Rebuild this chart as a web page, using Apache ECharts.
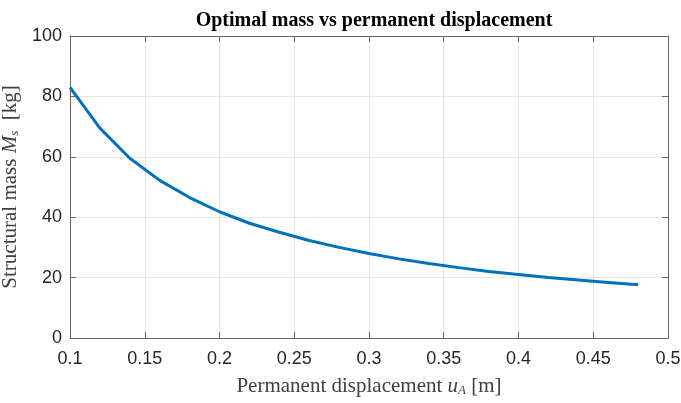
<!DOCTYPE html>
<html>
<head>
<meta charset="utf-8">
<script src="https://cdn.jsdelivr.net/npm/echarts@6/dist/echarts.min.js"></script>
<style>
  html, body { margin: 0; padding: 0; background: #fff; }
  #chart { width: 681px; height: 403px; }
</style>
</head>
<body>
<div id="chart"></div>
<script>
// permanent displacement u_A [m]
const displacement = [0.10, 0.12, 0.14, 0.16, 0.18, 0.20, 0.22, 0.24, 0.26, 0.28,
                      0.30, 0.32, 0.34, 0.36, 0.38, 0.40, 0.42, 0.44, 0.46, 0.48];
// optimal structural mass M_s [kg]
const mass = [83.0, 69.5, 59.5, 52.2, 46.5, 41.8, 38.0, 35.0, 32.3, 30.0,
              28.0, 26.2, 24.7, 23.3, 22.0, 21.0, 20.0, 19.2, 18.4, 17.6];
const xTicks = { min: 0.1, max: 0.5, step: 0.05 };
const yTicks = { min: 0, max: 100, step: 20 };

const points = displacement.map((d, i) => [d, mass[i]]);

const axisColor = '#666';
const textColor = '#262626';
const serif = '"Liberation Serif", "Times New Roman", serif';
const sans = '"Liberation Sans", Arial, sans-serif';

function fmt(v) { return String(+v.toFixed(2)); }

// rich styles for the math-ish axis names
const nameRich = {
    t: { fontFamily: serif, fontSize: 21, color: '#404040' },
    i: { fontFamily: serif, fontSize: 21, fontStyle: 'italic', color: '#404040' },
    s: { fontFamily: serif, fontSize: 13, fontStyle: 'italic', color: '#404040', verticalAlign: 'bottom' }
};

const myChart = echarts.init(document.getElementById('chart'));
myChart.setOption({
    animation: false,
    title: {
        text: 'Optimal mass vs permanent displacement',
        left: 369,
        textAlign: 'center',
        top: 6,
        textStyle: { fontFamily: serif, fontWeight: 'bold', fontSize: 20, color: '#000' }
    },
    grid: { left: 70, right: 13, top: 36, bottom: 65, containLabel: false, outerBoundsMode: 'none' },
    xAxis: [{
        type: 'value',
        min: xTicks.min, max: xTicks.max, interval: xTicks.step,
        name: '{t|Permanent displacement }{i|u}{s|A}{t| [m]}',
        nameLocation: 'middle',
        nameGap: 38,
        nameTextStyle: { rich: nameRich },
        axisLine: { show: true, lineStyle: { color: axisColor, width: 1 } },
        axisTick: { show: true, inside: true, length: 6, lineStyle: { color: axisColor } },
        axisLabel: { formatter: fmt, fontFamily: sans, fontSize: 18, color: textColor, margin: 12 },
        splitLine: { show: true, lineStyle: { color: '#e6e6e6', width: 1 } }
    }, {
        type: 'value', position: 'top',
        min: xTicks.min, max: xTicks.max, interval: xTicks.step,
        axisLine: { show: true, onZero: false, lineStyle: { color: axisColor, width: 1 } },
        axisTick: { show: true, inside: true, length: 6, lineStyle: { color: axisColor } },
        axisLabel: { show: false },
        splitLine: { show: false }
    }],
    yAxis: [{
        type: 'value',
        min: yTicks.min, max: yTicks.max, interval: yTicks.step,
        name: '{t|Structural mass }{i|M}{s|s}{t|  [kg]}',
        nameLocation: 'middle',
        nameGap: 38,
        nameRotate: 90,
        nameTextStyle: { rich: nameRich },
        axisLine: { show: true, lineStyle: { color: axisColor, width: 1 } },
        axisTick: { show: true, inside: true, length: 6, lineStyle: { color: axisColor } },
        axisLabel: { fontFamily: sans, fontSize: 18, color: textColor, margin: 8 },
        splitLine: { show: true, lineStyle: { color: '#e6e6e6', width: 1 } }
    }, {
        type: 'value', position: 'right',
        min: yTicks.min, max: yTicks.max, interval: yTicks.step,
        axisLine: { show: true, onZero: false, lineStyle: { color: axisColor, width: 1 } },
        axisTick: { show: true, inside: true, length: 6, lineStyle: { color: axisColor } },
        axisLabel: { show: false },
        splitLine: { show: false }
    }],
    series: [{
        type: 'line',
        data: points,
        xAxisIndex: 0,
        yAxisIndex: 0,
        showSymbol: false,
        smooth: false,
        lineStyle: { color: '#0072BD', width: 3 }
    }]
});
</script>
</body>
</html>
